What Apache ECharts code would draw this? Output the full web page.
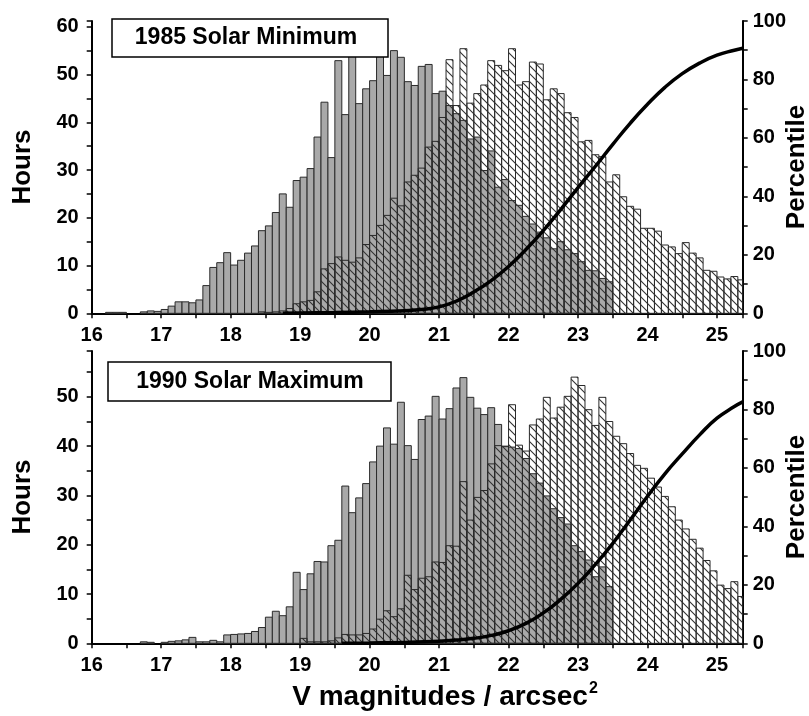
<!DOCTYPE html>
<html><head><meta charset="utf-8">
<script src="https://cdn.jsdelivr.net/npm/echarts@6/dist/echarts.min.js"></script>
<style>html,body{margin:0;padding:0;background:#fff}#c{width:809px;height:716px}</style>
</head><body><div id="c"></div>
<script>
// ---- data ----
const binWidth = 0.1;
const grayStart = 16.0;
const topHatchStart = 18.4;
const bottomHatchStart = 19.0;

// 1985 Solar Minimum panel
const topGray = [0,0,0.2,0.2,0.2,0,0,0.3,0.5,0.4,
  0.8,1.5,2.4,2.4,2.2,2.8,5.8,9.6,10.6,12.7,
  10.1,11.1,12.6,14.1,17.3,18.3,21.1,25.0,22.2,27.8,
  28.5,30.3,36.9,44.2,32.6,52.9,41.6,55.0,43.9,47.0,
  48.7,54.5,49.8,55.0,53.6,48.5,47.7,51.7,52.1,46.0,
  46.5,43.5,41.8,40.4,36.5,36.9,29.9,34.0,26.4,28.0,
  23.6,22.6,20.3,18.7,17.0,15.8,13.5,15.0,13.3,12.5,
  10.8,9.0,8.9,7.3,6.6];
const topHatched = [0.3,0.2,0.3,0.5,1.0,2.0,
  2.4,2.7,4.5,9.3,10.4,11.8,11.1,10.7,11.6,14.4,
  16.3,18.4,20.5,24.1,22.5,27.5,28.9,30.4,34.8,36.0,
  41.0,53.1,43.5,55.4,44.0,46.0,47.8,52.9,51.9,50.8,
  55.4,47.8,48.5,52.6,52.2,44.7,47.0,46.0,42.0,41.0,
  35.9,36.2,33.2,32.8,27.5,29.0,24.4,22.4,21.8,17.8,
  17.8,17.2,14.3,13.9,12.5,14.8,12.6,11.6,9.0,8.8,
  7.6,7.2,7.7,7.0];
const topCurveX = [18.75,19.0,19.5,20.0,20.5,20.75,21.0,21.25,21.5,21.75,22.0,22.25,22.5,22.75,23.0,23.25,23.5,23.75,24.0,24.25,24.5,24.75,25.0,25.25,25.37];
const topCurveY = [0,0.1,0.25,0.5,0.9,1.3,2.2,4.2,7.3,11.2,16.0,21.8,28.3,35.5,43.0,50.3,57.8,65.0,71.5,77.3,82.0,85.6,88.3,90.0,90.7];

// 1990 Solar Maximum panel
const bottomGray = [0,0,0,0,0,0,0,0.3,0.2,0,
  0.2,0.4,0.5,0.7,1.2,0.3,0.3,0.6,0.3,1.7,
  1.8,1.9,2.0,2.4,3.2,5.3,6.5,5.6,7.4,14.4,
  10.9,14.1,16.6,16.5,19.8,20.9,31.9,26.5,29.5,32.4,
  36.8,40.0,43.7,40.4,48.9,40.1,37.3,45.4,46.1,50.1,
  45.5,47.6,51.8,53.9,49.9,47.7,46.4,47.8,44.4,39.9,
  39.8,39.5,37.5,34.4,32.5,29.9,27.3,25.5,24.2,19.8,
  18.6,16.9,13.5,15.5,11.5];
const bottomHatched = [1.0,0.3,0.3,0.3,0.5,1.1,1.8,1.7,1.7,2.0,
  2.9,4.9,6.6,5.4,7.0,13.8,10.9,13.2,13.5,16.5,
  16.4,19.8,19.7,32.8,25.0,29.6,31.0,36.4,40.1,40.0,
  48.4,40.2,39.0,44.3,45.5,49.9,45.7,47.9,50.1,54.0,
  52.3,47.4,44.2,49.9,45.0,42.0,40.5,38.5,36.1,35.5,
  33.5,31.7,29.8,27.7,25.0,23.2,21.1,19.3,16.8,14.7,
  11.8,11.1,12.5,9.5];
const bottomCurveX = [19.6,20.0,20.5,21.0,21.25,21.5,21.75,22.0,22.25,22.5,22.75,23.0,23.25,23.5,23.75,24.0,24.25,24.5,24.75,25.0,25.25,25.37];
const bottomCurveY = [0,0.1,0.3,0.7,1.1,1.7,2.7,4.3,6.8,10.4,15.0,20.5,27.0,34.2,42.2,50.3,58.0,64.8,71.3,77.0,81.0,82.6];

const xTicks = [16,17,18,19,20,21,22,23,24,25];
const panelTitles = ['1985 Solar Minimum', '1990 Solar Maximum'];
const axisNames = { left: 'Hours', right: 'Percentile' };

// ---- helpers ----
const FONT = '"Liberation Sans", Arial, sans-serif';
function bins(start, vals) { return vals.map((v, i) => [Math.round((start + i * binWidth) * 10) / 10, v]); }

const cv = document.createElement('canvas'); cv.width = 8; cv.height = 8;
const cx = cv.getContext('2d');
cx.strokeStyle = '#333'; cx.lineWidth = 1.1;
cx.beginPath(); cx.moveTo(0, 0); cx.lineTo(8, 8); cx.moveTo(-1, 7); cx.lineTo(1, 9); cx.moveTo(7, -1); cx.lineTo(9, 1); cx.stroke();
const hatchPattern = { image: cv, repeat: 'repeat' };

function barRender(hatched) {
  return function (params, api) {
    const x0 = api.value(0), h = api.value(1);
    if (!h) return null;
    const p1 = api.coord([x0, h]);
    const p0 = api.coord([x0 + binWidth, 0]);
    const cs = params.coordSys;
    const r = echarts.graphic.clipRectByRect(
      { x: p1[0], y: p1[1], width: p0[0] - p1[0], height: p0[1] - p1[1] },
      { x: cs.x, y: cs.y, width: cs.width, height: cs.height });
    if (!r) return null;
    return { type: 'rect', shape: r,
      style: hatched ? { fill: hatchPattern, stroke: '#2a2a2a', lineWidth: 1 }
                     : { fill: '#a9a9a9', stroke: '#2a2a2a', lineWidth: 1 } };
  };
}

const lbl = { color: '#000', fontSize: 20, fontWeight: 'bold', fontFamily: FONT };
const isInt = v => Math.abs(v - Math.round(v)) < 1e-6;
function xAxis(g) {
  return { type: 'value', gridIndex: g, min: 16, max: 25.37, interval: 0.5,
    axisLine: { lineStyle: { color: '#000', width: 2 } },
    axisTick: { length: 5, lineStyle: { color: '#000', width: 1.5 } },
    splitLine: { show: false },
    axisLabel: Object.assign({ margin: 12, formatter: v => (isInt(v) && xTicks.indexOf(Math.round(v)) >= 0) ? String(Math.round(v)) : '' }, lbl) };
}
function yLeft(g, max) {
  return { type: 'value', gridIndex: g, min: 0, max: max, interval: 5, position: 'left',
    axisLine: { show: true, lineStyle: { color: '#000', width: 2 } },
    axisTick: { show: true, length: 5, lineStyle: { color: '#000', width: 1.5 } },
    splitLine: { show: false },
    axisLabel: Object.assign({ margin: 13, formatter: v => (isInt(v) && Math.round(v) % 10 === 0 && v <= 60) ? String(Math.round(v)) : '' }, lbl) };
}
function yRight(g) {
  return { type: 'value', gridIndex: g, min: 0, max: 100, interval: 10, position: 'right',
    axisLine: { show: true, lineStyle: { color: '#000', width: 2 } },
    axisTick: { show: true, length: 5, lineStyle: { color: '#000', width: 1.5 } },
    splitLine: { show: false },
    axisLabel: Object.assign({ margin: 10, formatter: v => (Math.round(v) % 20 === 0) ? String(Math.round(v)) : '' }, lbl) };
}
function curve(xs, ys) { return xs.map((x, i) => [x, ys[i]]); }
function vText(txt, x, y) {
  return { type: 'text', z: 101, x: x, y: y, rotation: Math.PI / 2,
    style: { text: txt, fill: '#000', font: 'bold 26px ' + FONT, align: 'center', verticalAlign: 'middle' } };
}

const option = {
  animation: false,
  backgroundColor: '#fff',
  grid: [
    { left: 91.7, right: 66.3, top: 21, height: 292.3 },
    { left: 91.7, right: 66.3, top: 351, height: 292.3 }
  ],
  xAxis: [xAxis(0), xAxis(1)],
  yAxis: [yLeft(0, 61.2), yRight(0), yLeft(1, 59.3), yRight(1)],
  series: [
    { type: 'custom', xAxisIndex: 0, yAxisIndex: 0, data: bins(grayStart, topGray), renderItem: barRender(false), encode: { x: 0, y: 1 }, z: 2 },
    { type: 'custom', xAxisIndex: 0, yAxisIndex: 0, data: bins(topHatchStart, topHatched), renderItem: barRender(true), encode: { x: 0, y: 1 }, z: 3 },
    { type: 'line', xAxisIndex: 0, yAxisIndex: 1, data: curve(topCurveX, topCurveY), smooth: 0.5, symbol: 'none', lineStyle: { color: '#000', width: 3.5 }, z: 4 },
    { type: 'custom', xAxisIndex: 1, yAxisIndex: 2, data: bins(grayStart, bottomGray), renderItem: barRender(false), encode: { x: 0, y: 1 }, z: 2 },
    { type: 'custom', xAxisIndex: 1, yAxisIndex: 2, data: bins(bottomHatchStart, bottomHatched), renderItem: barRender(true), encode: { x: 0, y: 1 }, z: 3 },
    { type: 'line', xAxisIndex: 1, yAxisIndex: 3, data: curve(bottomCurveX, bottomCurveY), smooth: 0.5, symbol: 'none', lineStyle: { color: '#000', width: 3.5 }, z: 4 }
  ],
  graphic: [
    { type: 'rect', z: 100, shape: { x: 112, y: 19, width: 276, height: 38 }, style: { fill: '#fff', stroke: '#000', lineWidth: 1.5 } },
    { type: 'text', z: 101, x: 246, y: 38, style: { text: panelTitles[0], fill: '#000', font: 'bold 23px ' + FONT, align: 'center', verticalAlign: 'middle' } },
    { type: 'rect', z: 100, shape: { x: 108, y: 362, width: 283, height: 39 }, style: { fill: '#fff', stroke: '#000', lineWidth: 1.5 } },
    { type: 'text', z: 101, x: 250, y: 382, style: { text: panelTitles[1], fill: '#000', font: 'bold 23px ' + FONT, align: 'center', verticalAlign: 'middle' } },
    vText(axisNames.left, 23, 167),
    vText(axisNames.left, 23, 497),
    vText(axisNames.right, 797, 167),
    vText(axisNames.right, 797, 497),
    { type: 'text', z: 101, x: 445, y: 697, style: {
        text: '{a|V magnitudes / arcsec}{s|2}', align: 'center', verticalAlign: 'middle',
        rich: { a: { fontSize: 28, fontWeight: 'bold', fontFamily: FONT, fill: '#000', color: '#000', lineHeight: 32 },
                s: { fontSize: 16, fontWeight: 'bold', fontFamily: FONT, fill: '#000', color: '#000', verticalAlign: 'top', lineHeight: 32, padding: [0, 0, 14, 1] } } } }
  ]
};
const chart = echarts.init(document.getElementById('c'), null, { renderer: 'canvas' });
chart.setOption(option);
</script></body></html>
